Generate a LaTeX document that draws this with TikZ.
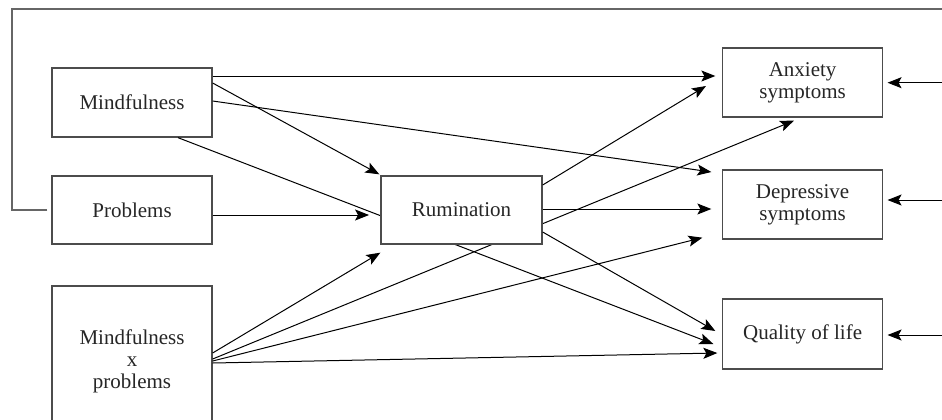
\documentclass[tikz,border=0pt]{standalone}
\usepackage{fontspec}
\setmainfont{Liberation Serif}
\usetikzlibrary{arrows.meta,calc}
\begin{document}
\begin{tikzpicture}[x=0.5pt,y=-0.5pt,
  box/.style={draw=black!70,line width=0.65pt,fill=white,text=black!85,
    align=center,inner sep=0pt,font=\fontsize{10.5}{11}\selectfont},
  arr/.style={draw=black,line width=0.5pt,-{Stealth[length=7pt,width=5.5pt,inset=1.5pt]}},
  ln/.style={draw=black,line width=0.5pt},
  fb/.style={draw=black!60,line width=0.7pt}]
\useasboundingbox (0,0) rectangle (942,419);
\clip (0,0) rectangle (942,419);
\fill[white] (0,0) rectangle (942,419);
% right-side free ends and feedback corners
\coordinate (fbtl) at (12,9);
\coordinate (fbtr) at (942,9);
\coordinate (ea) at (942,82.7);
\coordinate (ed) at (942,200);
\coordinate (eq) at (942,335);
% lines that pass behind Rumination (drawn first)
\path (132,102.5) node[box,minimum width=80pt,minimum height=34.5pt] (mind) {Mindfulness};
\path (132,210) node[box,minimum width=80pt,minimum height=34pt] (prob) {Problems};
\path (132,361) node[box,minimum width=80pt,minimum height=75pt] (mxp) {Mindfulness\\x\\problems};
\path (802.6,82.5) node[box,minimum width=80pt,minimum height=34.5pt] (anx) {Anxiety\\symptoms};
\path (802.6,204.5) node[box,minimum width=80pt,minimum height=34.5pt] (dep) {Depressive\\symptoms};
\path (802.6,334) node[box,minimum width=80pt,minimum height=35pt] (qol) {Quality of life};
\draw[arr] ($(mind.south)+(46,0)$) -- ($(qol.west)+(-8.6,10)$);
\draw[arr] ($(mxp.east)+(0,-2)$) -- ($(anx.south west)+(72,3)$);
\path (461.5,210) node[box,minimum width=80.5pt,minimum height=34pt] (rum) {Rumination};
% feedback loop
\draw[fb] ([xshift=-2pt]prob.west) -| (fbtl) -- (fbtr);
% Mindfulness
\draw[arr] ($(mind.east)+(0,-26.5)$) -- ($(anx.west)+(-6.6,-6.5)$);
\draw[arr] ($(mind.east)+(0,-19.5)$) -- ($(rum.north west)+(-1,-1)$);
\draw[arr] ($(mind.east)+(0,-1.5)$) -- ($(dep.west)+(-10.6,-32.5)$);
% Problems
\draw[arr] ($(prob.east)+(0,5)$) -- ($(rum.west)+(-11.3,5)$);
% Mindfulness x problems
\draw[arr] ($(mxp.east)+(0,-8)$) -- ($(rum.south west)+(0,8)$);
\draw[arr] ($(mxp.east)+(0,0)$) -- ($(dep.south west)+(-19.6,-2)$);
\draw[arr] ($(mxp.east)+(0,2)$) -- ($(qol.west)+(-4.6,19)$);
% Rumination
\draw[arr] ($(rum.east)+(0,-25)$) -- ($(anx.west)+(-16,3.5)$);
\draw[arr] ($(rum.east)+(0,-1)$) -- ($(dep.west)+(-10.6,4.5)$);
\draw[arr] ($(rum.east)+(0,22)$) -- ($(qol.west)+(-6.6,-3)$);
% residual arrows from the right
\draw[arr] (ea) -- ($(anx.east)+(4.3,0.2)$);
\draw[arr] (ed) -- ($(dep.east)+(4.3,-4.5)$);
\draw[arr] (eq) -- ($(qol.east)+(4.3,1)$);
\end{tikzpicture}
\end{document}
